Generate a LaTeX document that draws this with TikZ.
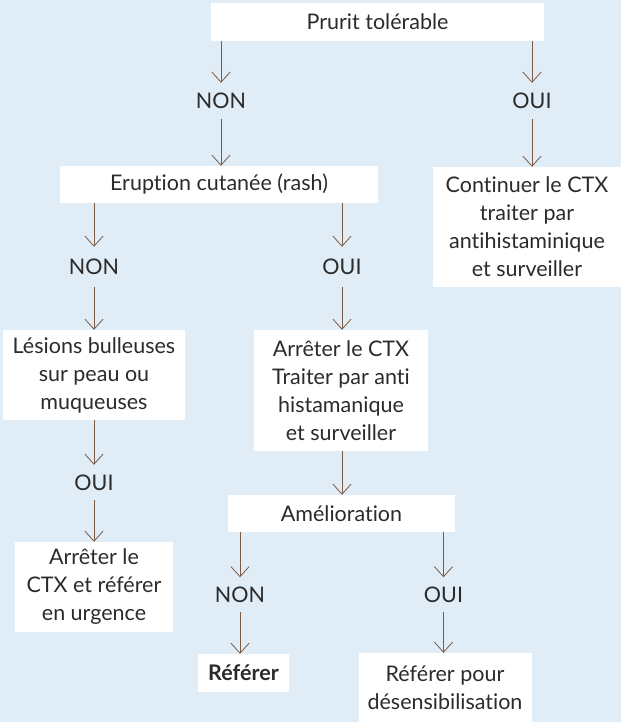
\documentclass[tikz,border=0pt]{standalone}
\usepackage{fontspec}
\setmainfont{Lato}[Ligatures=NoCommon]
\usetikzlibrary{arrows.meta}
\definecolor{bg}{HTML}{E1EDF6}
\definecolor{brn}{HTML}{7B5B45}
\definecolor{txt}{HTML}{2B2B2B}
\begin{document}
\begin{tikzpicture}[x=1pt,y=-1pt,
  font=\fontsize{21.5}{28}\selectfont, text=txt,
  box/.style args={#1/#2}{fill=white, align=center, inner sep=0pt, minimum width=#1pt, minimum height=#2pt},
  lbl/.style={inner sep=0pt, minimum height=#1pt},
  arr/.style={draw=brn, line width=0.8pt, -{Straight Barb[length=10pt,width=18pt]}}]
\fill[bg] (0,0) rectangle (621,722);
\useasboundingbox (0,0) rectangle (621,722);
% boxes
\node[box=333/38] (top) at (377.5,22) {Prurit tolérable};
\node[box=318/37] (erupt) at (219,184.5) {Eruption cutanée (rash)};
\node[box=188/120] (cont) at (527,227) {Continuer le CTX\\traiter par\\antihistaminique\\et surveiller};
\node[box=182/90] (les) at (94,375) {Lésions bulleuses\\sur peau ou\\muqueuses};
\node[box=174/121] (arret) at (341,390.5) {Arrêter le CTX\\Traiter par anti\\histamanique\\et surveiller};
\node[box=227/37] (amel) at (341.5,513.5) {Amélioration};
\node[box=158/90] (arret2) at (94,587) {Arrêter le\\CTX et référer\\en urgence};
\node[box=91/38] (ref) at (243.5,673) {\bfseries Référer};
\node[box=173/69] (refdes) at (445,687.5) {Référer pour\\désensibilisation};
% labels
\node[lbl=36] (nonA) at (221,101) {NON};
\node[lbl=36] (ouiA) at (532,101) {OUI};
\node[lbl=40] (nonB) at (94,267) {NON};
\node[lbl=40] (ouiB) at (342,267) {OUI};
\node[lbl=35] (ouiC) at (94,482.5) {OUI};
\node[lbl=34] (nonD) at (240,594.5) {NON};
\node[lbl=34] (ouiD) at (443.5,594.5) {OUI};
% arrows
\draw[arr] (nonA |- top.south) -- (nonA.north);
\draw[arr] (nonA.south) -- (nonA |- erupt.north);
\draw[arr] (ouiA |- top.south) -- (ouiA.north);
\draw[arr] (ouiA.south) -- (ouiA |- cont.north);
\draw[arr] (nonB |- erupt.south) -- (nonB.north);
\draw[arr] (nonB.south) -- (nonB |- les.north);
\draw[arr] (ouiB |- erupt.south) -- (ouiB.north);
\draw[arr] (ouiB.south) -- (ouiB |- arret.north);
\draw[arr] (ouiC |- les.south) -- (ouiC.north);
\draw[arr] (ouiC.south) -- (ouiC |- arret2.north);
\draw[arr] (ouiB |- arret.south) -- (ouiB |- amel.north);
\draw[arr] (nonD |- amel.south) -- (nonD.north);
\draw[arr] (nonD.south) -- (nonD |- ref.north);
\draw[arr] (ouiD |- amel.south) -- (ouiD.north);
\draw[arr] (ouiD.south) -- (ouiD |- refdes.north);
\end{tikzpicture}
\end{document}
